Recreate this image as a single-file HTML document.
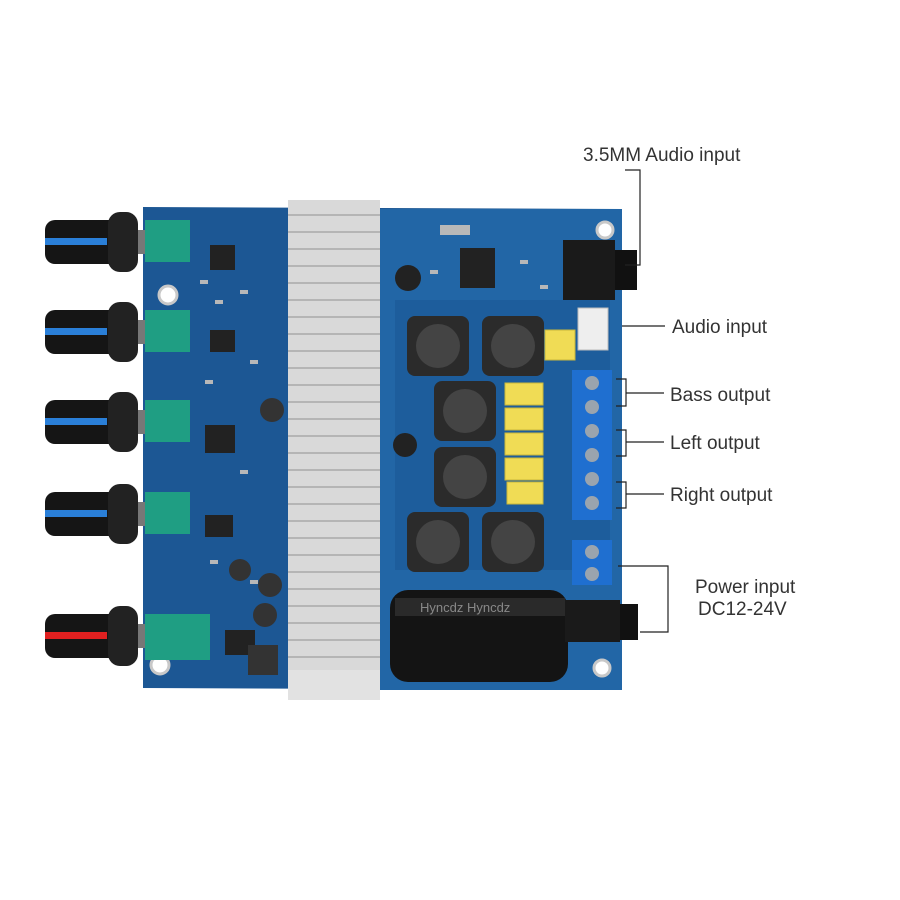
<!DOCTYPE html>
<html><head><meta charset="utf-8"><style>
html,body{margin:0;padding:0;background:#fff;width:900px;height:900px;overflow:hidden}
svg text{font-family:"Liberation Sans",sans-serif;fill:#333}
</style></head><body>
<svg width="900" height="900" viewBox="0 0 900 900" xmlns="http://www.w3.org/2000/svg">
<rect width="900" height="900" fill="#fff"/>
<!-- board -->
<polygon points="143,207 622,209 622,690 143,688" fill="#1c5794"/>
<rect x="380" y="209" width="242" height="481" fill="#2266a6"/>
<rect x="395" y="300" width="215" height="270" fill="#1d5d9c"/>
<!-- mounting holes -->
<circle cx="168" cy="295" r="9" fill="#fff" stroke="#c8c8c8" stroke-width="3"/>
<circle cx="160" cy="665" r="9" fill="#fff" stroke="#c8c8c8" stroke-width="3"/>
<circle cx="605" cy="230" r="8" fill="#fff" stroke="#c8c8c8" stroke-width="3"/>
<circle cx="602" cy="668" r="8" fill="#fff" stroke="#c8c8c8" stroke-width="3"/>
<!-- small SMD components left area -->
<g fill="#222">
<rect x="210" y="245" width="25" height="25"/><rect x="210" y="330" width="25" height="22"/>
<rect x="205" y="425" width="30" height="28"/><rect x="205" y="515" width="28" height="22"/>
<rect x="225" y="630" width="30" height="25"/><rect x="460" y="248" width="35" height="40"/>
</g>
<g fill="#b8b8b8">
<rect x="200" y="280" width="8" height="4"/><rect x="240" y="290" width="8" height="4"/><rect x="215" y="300" width="8" height="4"/>
<rect x="250" y="360" width="8" height="4"/><rect x="205" y="380" width="8" height="4"/><rect x="240" y="470" width="8" height="4"/>
<rect x="210" y="560" width="8" height="4"/><rect x="250" y="580" width="8" height="4"/><rect x="430" y="270" width="8" height="4"/>
<rect x="520" y="260" width="8" height="4"/><rect x="540" y="285" width="8" height="4"/><rect x="440" y="225" width="30" height="10"/>
</g>
<!-- small caps -->
<circle cx="272" cy="410" r="12" fill="#333"/><circle cx="240" cy="570" r="11" fill="#333"/>
<circle cx="270" cy="585" r="12" fill="#333"/><circle cx="265" cy="615" r="12" fill="#333"/>
<circle cx="408" cy="278" r="13" fill="#222"/><circle cx="405" cy="445" r="12" fill="#222"/>
<rect x="248" y="645" width="30" height="30" fill="#333"/>
<!-- heatsink -->
<rect x="288" y="200" width="92" height="500" fill="#d9d9d9"/>
<g stroke="#b5b5b5" stroke-width="2">
<line x1="288" y1="215" x2="380" y2="215"/><line x1="288" y1="232" x2="380" y2="232"/><line x1="288" y1="249" x2="380" y2="249"/>
<line x1="288" y1="266" x2="380" y2="266"/><line x1="288" y1="283" x2="380" y2="283"/><line x1="288" y1="300" x2="380" y2="300"/>
<line x1="288" y1="317" x2="380" y2="317"/><line x1="288" y1="334" x2="380" y2="334"/><line x1="288" y1="351" x2="380" y2="351"/>
<line x1="288" y1="368" x2="380" y2="368"/><line x1="288" y1="385" x2="380" y2="385"/><line x1="288" y1="402" x2="380" y2="402"/>
<line x1="288" y1="419" x2="380" y2="419"/><line x1="288" y1="436" x2="380" y2="436"/><line x1="288" y1="453" x2="380" y2="453"/>
<line x1="288" y1="470" x2="380" y2="470"/><line x1="288" y1="487" x2="380" y2="487"/><line x1="288" y1="504" x2="380" y2="504"/>
<line x1="288" y1="521" x2="380" y2="521"/><line x1="288" y1="538" x2="380" y2="538"/><line x1="288" y1="555" x2="380" y2="555"/>
<line x1="288" y1="572" x2="380" y2="572"/><line x1="288" y1="589" x2="380" y2="589"/><line x1="288" y1="606" x2="380" y2="606"/>
<line x1="288" y1="623" x2="380" y2="623"/><line x1="288" y1="640" x2="380" y2="640"/><line x1="288" y1="657" x2="380" y2="657"/>
<line x1="288" y1="674" x2="380" y2="674"/>
</g>
<rect x="288" y="670" width="92" height="30" fill="#e2e2e2"/>
<!-- inductors -->
<g>
<rect x="407" y="316" width="62" height="60" rx="8" fill="#2b2b2b"/><circle cx="438" cy="346" r="22" fill="#444"/>
<rect x="482" y="316" width="62" height="60" rx="8" fill="#2b2b2b"/><circle cx="513" cy="346" r="22" fill="#444"/>
<rect x="434" y="381" width="62" height="60" rx="8" fill="#2b2b2b"/><circle cx="465" cy="411" r="22" fill="#444"/>
<rect x="434" y="447" width="62" height="60" rx="8" fill="#2b2b2b"/><circle cx="465" cy="477" r="22" fill="#444"/>
<rect x="407" y="512" width="62" height="60" rx="8" fill="#2b2b2b"/><circle cx="438" cy="542" r="22" fill="#444"/>
<rect x="482" y="512" width="62" height="60" rx="8" fill="#2b2b2b"/><circle cx="513" cy="542" r="22" fill="#444"/>
</g>
<!-- yellow caps -->
<g fill="#f0dc55" stroke="#c9b63a">
<rect x="505" y="383" width="38" height="22"/><rect x="505" y="408" width="38" height="22"/>
<rect x="505" y="433" width="38" height="22"/><rect x="505" y="458" width="38" height="22"/>
<rect x="507" y="482" width="36" height="22"/><rect x="545" y="330" width="30" height="30"/>
</g>
<!-- white connector -->
<rect x="578" y="308" width="30" height="42" fill="#eee" stroke="#bbb"/>
<!-- audio jack -->
<rect x="563" y="240" width="52" height="60" fill="#1a1a1a"/>
<rect x="615" y="250" width="22" height="40" fill="#111"/>
<!-- terminal blocks -->
<rect x="572" y="370" width="40" height="150" fill="#1f6fd0"/>
<g fill="#9aa4ae"><circle cx="592" cy="383" r="7"/><circle cx="592" cy="407" r="7"/><circle cx="592" cy="431" r="7"/><circle cx="592" cy="455" r="7"/><circle cx="592" cy="479" r="7"/><circle cx="592" cy="503" r="7"/></g>
<rect x="572" y="540" width="40" height="45" fill="#1f6fd0"/>
<g fill="#9aa4ae"><circle cx="592" cy="552" r="7"/><circle cx="592" cy="574" r="7"/></g>
<!-- big capacitor -->
<rect x="390" y="590" width="178" height="92" rx="18" fill="#141414"/>
<rect x="395" y="598" width="170" height="18" fill="#2a2a2a"/>
<text x="420" y="612" font-size="13" fill="#888" style="fill:#888">Hyncdz  Hyncdz</text>
<!-- power jack -->
<rect x="565" y="600" width="55" height="42" fill="#1a1a1a"/><rect x="620" y="604" width="18" height="36" fill="#111"/>
<!-- knobs -->
<g>
<g transform="translate(0,242)"><rect x="118" y="-12" width="30" height="24" fill="#777"/><rect x="45" y="-22" width="75" height="44" rx="10" fill="#151515"/><rect x="108" y="-30" width="30" height="60" rx="12" fill="#222"/><rect x="45" y="-4" width="62" height="7" fill="#2a7fd8"/><rect x="145" y="-22" width="45" height="42" fill="#1f9e83"/></g>
<g transform="translate(0,332)"><rect x="118" y="-12" width="30" height="24" fill="#777"/><rect x="45" y="-22" width="75" height="44" rx="10" fill="#151515"/><rect x="108" y="-30" width="30" height="60" rx="12" fill="#222"/><rect x="45" y="-4" width="62" height="7" fill="#2a7fd8"/><rect x="145" y="-22" width="45" height="42" fill="#1f9e83"/></g>
<g transform="translate(0,422)"><rect x="118" y="-12" width="30" height="24" fill="#777"/><rect x="45" y="-22" width="75" height="44" rx="10" fill="#151515"/><rect x="108" y="-30" width="30" height="60" rx="12" fill="#222"/><rect x="45" y="-4" width="62" height="7" fill="#2a7fd8"/><rect x="145" y="-22" width="45" height="42" fill="#1f9e83"/></g>
<g transform="translate(0,514)"><rect x="118" y="-12" width="30" height="24" fill="#777"/><rect x="45" y="-22" width="75" height="44" rx="10" fill="#151515"/><rect x="108" y="-30" width="30" height="60" rx="12" fill="#222"/><rect x="45" y="-4" width="62" height="7" fill="#2a7fd8"/><rect x="145" y="-22" width="45" height="42" fill="#1f9e83"/></g>
<g transform="translate(0,636)"><rect x="118" y="-12" width="30" height="24" fill="#777"/><rect x="45" y="-22" width="75" height="44" rx="10" fill="#151515"/><rect x="108" y="-30" width="30" height="60" rx="12" fill="#222"/><rect x="45" y="-4" width="62" height="7" fill="#e02020"/><rect x="145" y="-22" width="65" height="46" fill="#1f9e83"/></g>
</g>
<!-- labels -->
<g stroke="#222" stroke-width="1.2" fill="none">
<polyline points="625,170 640,170 640,265 625,265"/>
<line x1="622" y1="326" x2="665" y2="326"/>
<polyline points="616,379 626,379 626,406 616,406"/><line x1="626" y1="393" x2="664" y2="393"/>
<polyline points="616,430 626,430 626,456 616,456"/><line x1="626" y1="442" x2="664" y2="442"/>
<polyline points="616,482 626,482 626,508 616,508"/><line x1="626" y1="494" x2="664" y2="494"/>
<polyline points="618,566 668,566 668,632 640,632"/>
</g>
<g font-size="19">
<text x="583" y="161">3.5MM Audio input</text>
<text x="672" y="333">Audio input</text>
<text x="670" y="401">Bass output</text>
<text x="670" y="449">Left output</text>
<text x="670" y="501">Right output</text>
<text x="695" y="593">Power input</text>
<text x="698" y="615">DC12-24V</text>
</g>
</svg>
</body></html>
